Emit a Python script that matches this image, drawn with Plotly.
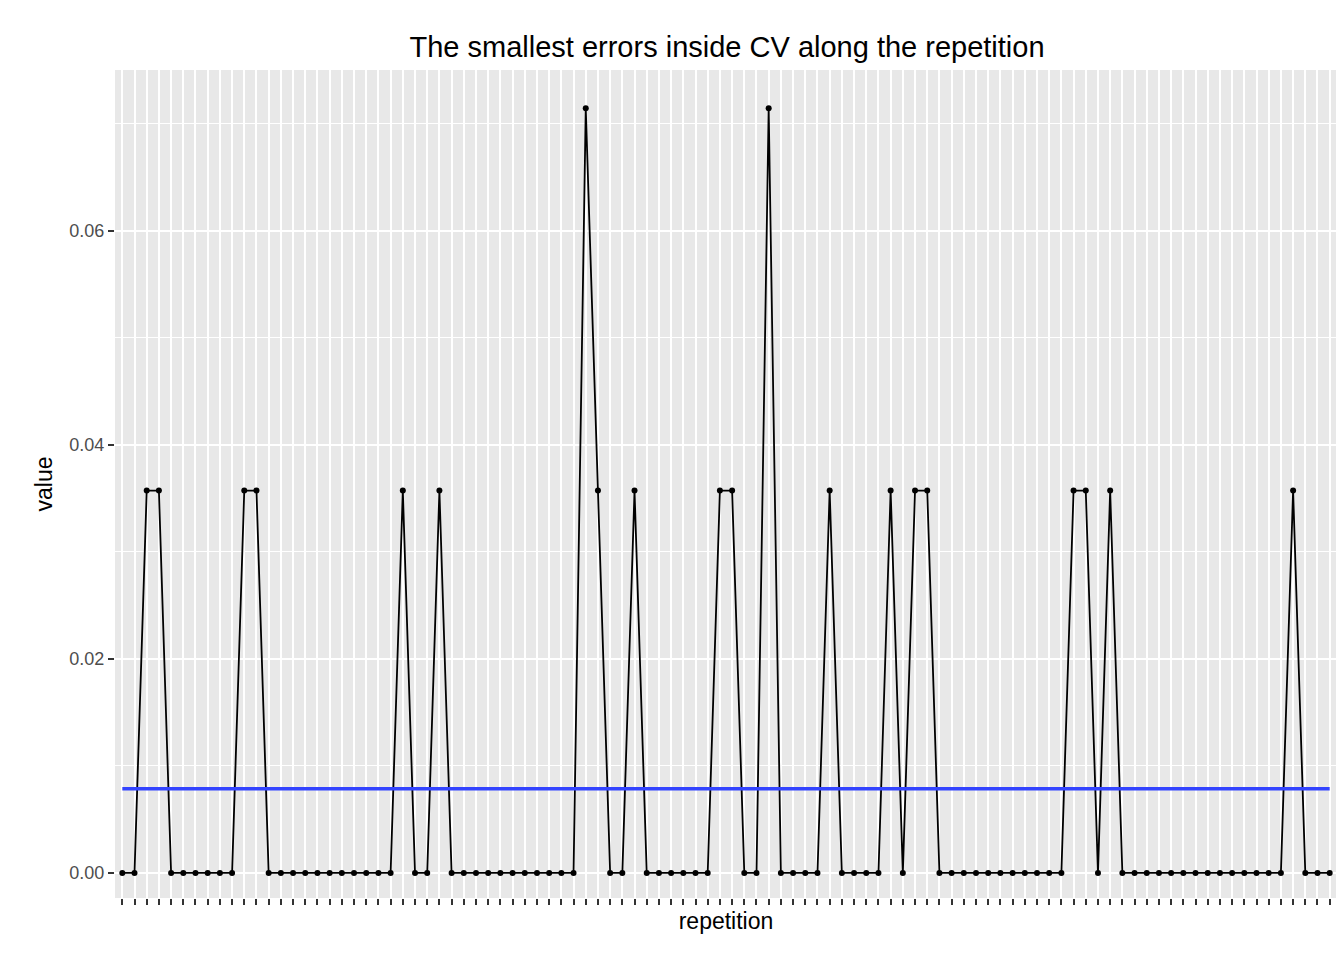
import plotly.graph_objects as go

repetition = list(range(1, 101))
high_idx = [2,3,10,11,23,26,39,42,49,50,58,63,65,66,78,79,81,96]
peak_idx = [38, 53]
value = []
for i in range(100):
    if i in peak_idx:
        value.append(2/28)
    elif i in high_idx:
        value.append(1/28)
    else:
        value.append(0.0)
mean_val = sum(value) / len(value)
xs = [str(r) for r in repetition]

fig = go.Figure()
fig.add_trace(go.Scatter(x=xs, y=value, mode="lines+markers",
                         line=dict(color="black", width=1.8),
                         marker=dict(color="black", size=6), showlegend=False))
fig.add_trace(go.Scatter(x=[xs[0], xs[-1]], y=[mean_val, mean_val], mode="lines",
                         line=dict(color="#3344ff", width=3.5), showlegend=False))

fig.update_layout(
    width=1344, height=960, autosize=False,
    paper_bgcolor="white", plot_bgcolor="#e8e8e8",
    margin=dict(l=107, r=15, t=62, b=70),
    title=dict(text="The smallest errors inside CV along the repetition", x=0.535, xanchor="center",
               y=0.97, font=dict(size=29, color="black", family="Liberation Sans, Arial")),
    font=dict(family="Liberation Sans, Arial", color="#4d4d4d"),
)
fig.update_xaxes(type="category", range=[-0.6, 99.6], showticklabels=False,
                 tickmode="array", tickvals=xs,
                 ticks="outside", ticklen=6, tickcolor="#333333", tickwidth=2,
                 showgrid=True, gridcolor="white", gridwidth=2.2, zeroline=False,
                 title=dict(text="repetition", font=dict(size=23, color="black"), standoff=8))
fig.update_yaxes(range=[-0.00234, 0.0750], tickvals=[0, 0.02, 0.04, 0.06],
                 ticktext=["0.00", "0.02", "0.04", "0.06"],
                 ticks="outside", ticklen=6, tickcolor="#333333", tickwidth=2,
                 tickfont=dict(size=18, color="#4d4d4d"),
                 showgrid=True, gridcolor="white", gridwidth=2.2, zeroline=False,
                 minor=dict(tickvals=[0.01, 0.03, 0.05, 0.07], showgrid=True, gridcolor="white", gridwidth=1),
                 title=dict(text="value", font=dict(size=23, color="black"), standoff=10))
fig.write_html("out.html")
